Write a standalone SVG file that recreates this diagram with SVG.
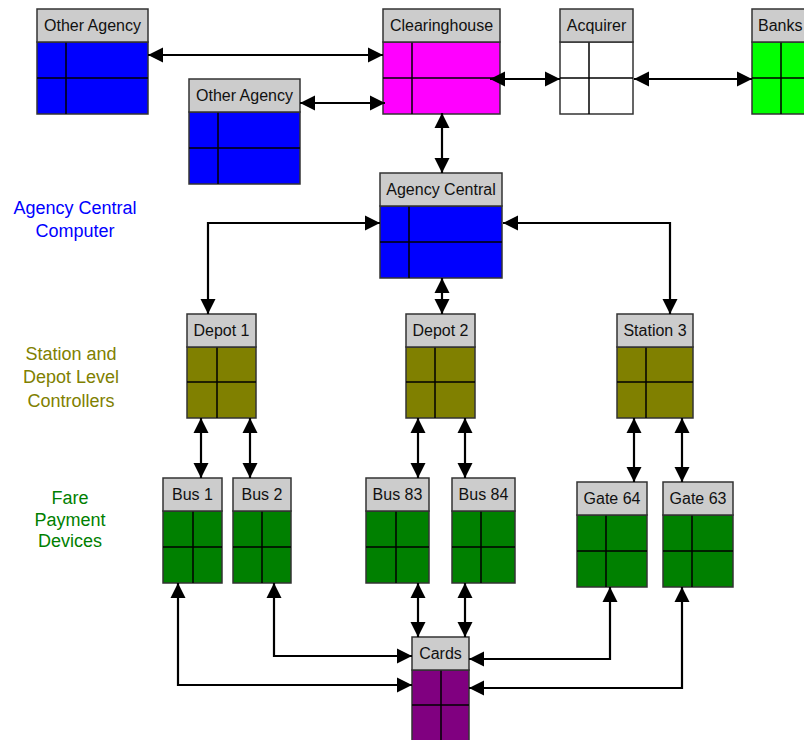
<svg xmlns="http://www.w3.org/2000/svg" width="804" height="740" viewBox="0 0 804 740">
<style>
.hd{fill:#cccccc;stroke:#333333;stroke-width:1.5}
.bd{stroke:#333333;stroke-width:1.5}
.ln{stroke:#000000;stroke-width:1.5;fill:none}
.t{font-family:"Liberation Sans",Arial,sans-serif;font-size:16px;fill:#111111;text-anchor:middle}
.side{font-family:"Liberation Sans",Arial,sans-serif;font-size:18px;text-anchor:middle}
.c{stroke:#000000;stroke-width:2.2;fill:none;marker-start:url(#ah);marker-end:url(#ah)}
</style>
<defs>
<marker id="ah" markerUnits="userSpaceOnUse" markerWidth="16" markerHeight="16" refX="15" refY="8" orient="auto-start-reverse">
<path d="M0,0.5 L15,8 L0,15.5 z" fill="#000000"/>
</marker>
</defs>
<rect width="804" height="740" fill="#ffffff"/>

<g id="labels">
<text class="side" fill="#0000ff" x="75" y="214">Agency Central</text>
<text class="side" fill="#0000ff" x="75" y="237">Computer</text>
<text class="side" fill="#808000" x="71" y="360">Station and</text>
<text class="side" fill="#808000" x="71" y="383">Depot Level</text>
<text class="side" fill="#808000" x="71" y="407">Controllers</text>
<text class="side" fill="#008000" x="70" y="504">Fare</text>
<text class="side" fill="#008000" x="70" y="526">Payment</text>
<text class="side" fill="#008000" x="70" y="547">Devices</text>
</g>

<g id="other-agency-1">
<rect class="bd" x="37" y="42" width="111" height="72" fill="#0000ff"/>
<line class="ln" x1="37" y1="78" x2="148" y2="78"/><line class="ln" x1="66" y1="42" x2="66" y2="114"/>
<rect class="hd" x="37" y="9" width="111" height="33"/>
<text class="t" x="92.5" y="31">Other Agency</text>
</g>
<g id="other-agency-2">
<rect class="bd" x="189" y="112" width="111" height="72" fill="#0000ff"/>
<line class="ln" x1="189" y1="148" x2="300" y2="148"/><line class="ln" x1="218" y1="112" x2="218" y2="184"/>
<rect class="hd" x="189" y="79" width="111" height="33"/>
<text class="t" x="244.5" y="101">Other Agency</text>
</g>
<g id="clearinghouse">
<rect class="bd" x="383" y="42" width="117" height="72" fill="#ff00ff"/>
<line class="ln" x1="383" y1="78" x2="500" y2="78"/><line class="ln" x1="412" y1="42" x2="412" y2="114"/>
<rect class="hd" x="383" y="9" width="117" height="33"/>
<text class="t" x="441.5" y="31">Clearinghouse</text>
</g>
<g id="acquirer">
<rect class="bd" x="560" y="42" width="73" height="72" fill="#ffffff"/>
<line class="ln" x1="560" y1="78" x2="633" y2="78"/><line class="ln" x1="589" y1="42" x2="589" y2="114"/>
<rect class="hd" x="560" y="9" width="73" height="33"/>
<text class="t" x="596.5" y="31">Acquirer</text>
</g>
<g id="banks">
<rect class="bd" x="752" y="42" width="80" height="72" fill="#00ff00"/>
<line class="ln" x1="752" y1="78" x2="832" y2="78"/><line class="ln" x1="781" y1="42" x2="781" y2="114"/>
<rect class="hd" x="752" y="9" width="80" height="33"/>
<text class="t" x="758" y="31" style="text-anchor:start">Banks</text>
</g>
<g id="agency-central">
<rect class="bd" x="380" y="206" width="122" height="72" fill="#0000ff"/>
<line class="ln" x1="380" y1="242" x2="502" y2="242"/><line class="ln" x1="409" y1="206" x2="409" y2="278"/>
<rect class="hd" x="380" y="173" width="122" height="33"/>
<text class="t" x="441" y="195">Agency Central</text>
</g>
<g id="depot-1">
<rect class="bd" x="187" y="347" width="69" height="71" fill="#808000"/>
<line class="ln" x1="187" y1="382" x2="256" y2="382"/><line class="ln" x1="217" y1="347" x2="217" y2="418"/>
<rect class="hd" x="187" y="314" width="69" height="33"/>
<text class="t" x="221.5" y="336">Depot 1</text>
</g>
<g id="depot-2">
<rect class="bd" x="406" y="347" width="69" height="71" fill="#808000"/>
<line class="ln" x1="406" y1="382" x2="475" y2="382"/><line class="ln" x1="435" y1="347" x2="435" y2="418"/>
<rect class="hd" x="406" y="314" width="69" height="33"/>
<text class="t" x="440.5" y="336">Depot 2</text>
</g>
<g id="station-3">
<rect class="bd" x="617" y="347" width="76" height="71" fill="#808000"/>
<line class="ln" x1="617" y1="382" x2="693" y2="382"/><line class="ln" x1="646" y1="347" x2="646" y2="418"/>
<rect class="hd" x="617" y="314" width="76" height="33"/>
<text class="t" x="655" y="336">Station 3</text>
</g>
<g id="bus-1">
<rect class="bd" x="163" y="511" width="59" height="72" fill="#008000"/>
<line class="ln" x1="163" y1="547" x2="222" y2="547"/><line class="ln" x1="193" y1="511" x2="193" y2="583"/>
<rect class="hd" x="163" y="478" width="59" height="33"/>
<text class="t" x="192.5" y="500">Bus 1</text>
</g>
<g id="bus-2">
<rect class="bd" x="233" y="511" width="58" height="72" fill="#008000"/>
<line class="ln" x1="233" y1="547" x2="291" y2="547"/><line class="ln" x1="262" y1="511" x2="262" y2="583"/>
<rect class="hd" x="233" y="478" width="58" height="33"/>
<text class="t" x="262" y="500">Bus 2</text>
</g>
<g id="bus-83">
<rect class="bd" x="366" y="511" width="63" height="72" fill="#008000"/>
<line class="ln" x1="366" y1="547" x2="429" y2="547"/><line class="ln" x1="396" y1="511" x2="396" y2="583"/>
<rect class="hd" x="366" y="478" width="63" height="33"/>
<text class="t" x="397.5" y="500">Bus 83</text>
</g>
<g id="bus-84">
<rect class="bd" x="452" y="511" width="63" height="72" fill="#008000"/>
<line class="ln" x1="452" y1="547" x2="515" y2="547"/><line class="ln" x1="481" y1="511" x2="481" y2="583"/>
<rect class="hd" x="452" y="478" width="63" height="33"/>
<text class="t" x="483.5" y="500">Bus 84</text>
</g>
<g id="gate-64">
<rect class="bd" x="577" y="515" width="70" height="72" fill="#008000"/>
<line class="ln" x1="577" y1="551" x2="647" y2="551"/><line class="ln" x1="606" y1="515" x2="606" y2="587"/>
<rect class="hd" x="577" y="482" width="70" height="33"/>
<text class="t" x="612" y="504">Gate 64</text>
</g>
<g id="gate-63">
<rect class="bd" x="663" y="515" width="70" height="72" fill="#008000"/>
<line class="ln" x1="663" y1="551" x2="733" y2="551"/><line class="ln" x1="692" y1="515" x2="692" y2="587"/>
<rect class="hd" x="663" y="482" width="70" height="33"/>
<text class="t" x="698" y="504">Gate 63</text>
</g>
<g id="cards">
<rect class="bd" x="412" y="670" width="57" height="75" fill="#800080"/>
<line class="ln" x1="412" y1="705" x2="469" y2="705"/><line class="ln" x1="441" y1="670" x2="441" y2="745"/>
<rect class="hd" x="412" y="637" width="57" height="33"/>
<text class="t" x="440.5" y="659">Cards</text>
</g>

<g id="connectors">
<path class="c" d="M148,55 L383,55"/>
<path class="c" d="M300,103 L385,103"/>
<path class="c" d="M490,79 L560,79"/>
<path class="c" d="M634,79 L752,79"/>
<path class="c" d="M442,113 L442,173"/>
<path class="c" d="M380,223 L208,223 L208,314"/>
<path class="c" d="M503,223 L670,223 L670,314"/>
<path class="c" d="M442,278 L442,314"/>
<path class="c" d="M201,418 L201,478"/>
<path class="c" d="M250,418 L250,478"/>
<path class="c" d="M418,418 L418,478"/>
<path class="c" d="M465,418 L465,478"/>
<path class="c" d="M634,418 L634,482"/>
<path class="c" d="M682,418 L682,482"/>
<path class="c" d="M418,583 L418,637"/>
<path class="c" d="M465,583 L465,637"/>
<path class="c" d="M178,583 L178,685 L412,685"/>
<path class="c" d="M274,583 L274,656 L412,656"/>
<path class="c" d="M610,587 L610,659 L469,659"/>
<path class="c" d="M682,587 L682,688 L469,688"/>
</g>
</svg>
